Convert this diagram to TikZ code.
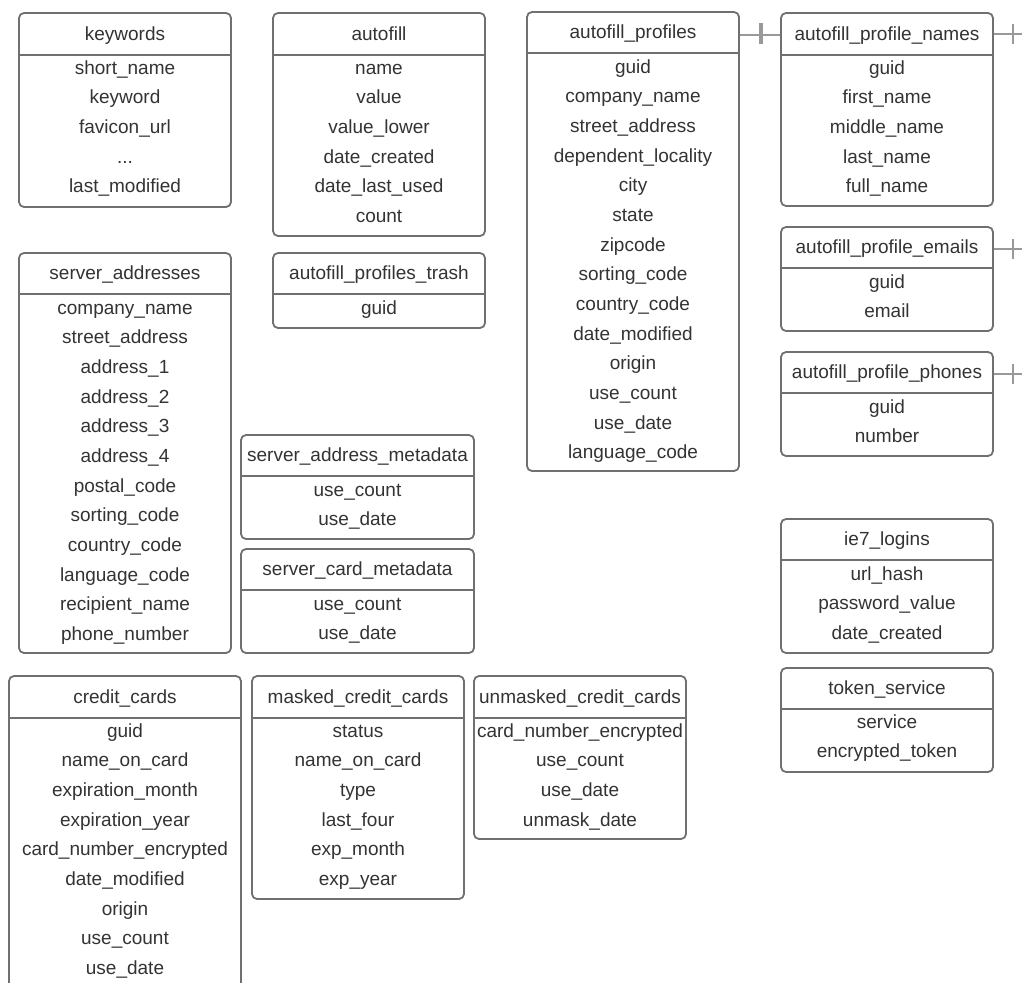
\documentclass[tikz,border=0pt]{standalone}
\usepackage{fontspec}
\setmainfont{Liberation Sans}
\usetikzlibrary{fit}
\definecolor{bordc}{RGB}{112,112,112}
\definecolor{txtc}{RGB}{51,51,51}
\definecolor{connc}{RGB}{153,153,153}
\tikzset{
  tblbox/.style={draw=bordc, line width=1.8pt, rounded corners=5pt, inner sep=0pt},
  divline/.style={draw=bordc, line width=1.8pt},
  txt/.style={text=txtc, font=\fontsize{19}{23}\selectfont, inner sep=0pt, anchor=base},
  conn/.style={draw=connc, line width=1.8pt},
  thickbar/.style={draw=connc, line width=4pt},
  thinbar/.style={draw=connc, line width=1.8pt},
}
% #1 id, #2 x1, #3 y1, #4 x2, #5 y2, #6 divider y, #7 title, #8 first row y, #9 rows
\newcommand\ertable[9]{%
  \node[tblbox, fit={(#2,#3) (#4,#5)}] (#1) {};
  \draw[divline] (#2,#6) -- (#4,#6);
  \node[txt] (#1-t) at ({(#2+#4)/2},{(#3+#6)/2+6.2}) {#7};
  \foreach \r [count=\i from 0] in {#9}
    \node[txt] (#1-\i) at ({(#2+#4)/2},{#8+6.3+\i*29.65}) {\r};
}
\begin{document}
\begin{tikzpicture}[x=1pt,y=-1pt]
\useasboundingbox (0,0) rectangle (1022,982);
\clip (0,0) rectangle (1022,982);
\fill[white] (0,0) rectangle (1022,982);

\ertable{kw}{19}{13}{231}{207}{55}{keywords}{68}{short\_name,keyword,favicon\_url,{.{}.{}.},last\_modified}
\ertable{af}{273}{13}{485}{236}{55}{autofill}{68}{name,value,value\_lower,date\_created,date\_last\_used,count}
\ertable{ap}{527}{12}{739}{471}{53}{autofill\_profiles}{67}{guid,company\_name,street\_address,dependent\_locality,city,state,zipcode,sorting\_code,country\_code,date\_modified,origin,use\_count,use\_date,language\_code}
\ertable{apn}{781}{13}{993}{206}{55}{autofill\_profile\_names}{68}{guid,first\_name,middle\_name,last\_name,full\_name}
\ertable{ape}{781}{227}{993}{331}{268}{autofill\_profile\_emails}{282}{guid,email}
\ertable{app}{781}{352}{993}{456}{393}{autofill\_profile\_phones}{407}{guid,number}
\ertable{ie}{781}{519}{993}{653}{560}{ie7\_logins}{574}{url\_hash,password\_value,date\_created}
\ertable{ts}{781}{668}{993}{772}{709}{token\_service}{722}{service,encrypted\_token}
\ertable{sa}{19}{253}{231}{653}{294}{server\_addresses}{308}{company\_name,street\_address,address\_1,address\_2,address\_3,address\_4,postal\_code,sorting\_code,country\_code,language\_code,recipient\_name,phone\_number}
\ertable{apt}{273}{253}{485}{328}{294}{autofill\_profiles\_trash}{308}{guid}
\ertable{sam}{241}{435}{474}{539}{476}{server\_address\_metadata}{490}{use\_count,use\_date}
\ertable{scm}{241}{549}{474}{653}{590}{server\_card\_metadata}{604}{use\_count,use\_date}
\ertable{cc}{9}{676}{241}{1000}{718}{credit\_cards}{731}{guid,name\_on\_card,expiration\_month,expiration\_year,card\_number\_encrypted,date\_modified,origin,use\_count,use\_date}
\ertable{mcc}{252}{676}{464}{899}{718}{masked\_credit\_cards}{731}{status,name\_on\_card,type,last\_four,exp\_month,exp\_year}
\ertable{ucc}{474}{676}{686}{839}{718}{unmasked\_credit\_cards}{731}{card\_number\_encrypted,use\_count,use\_date,unmask\_date}

% connectors
\draw[conn] (ap.east|-apn-t.center) -- (apn.west|-apn-t.center);
\draw[thickbar] (761,23.5) -- (761,44.5);
\coordinate (e1) at (1022,34);
\coordinate (e2) at (1022,249);
\coordinate (e3) at (1022,374);
\draw[conn] (apn.east|-e1) -- (e1);
\draw[conn] (ape.east|-e2) -- (e2);
\draw[conn] (app.east|-e3) -- (e3);
\draw[thinbar] (1013,24) -- (1013,44);
\draw[thinbar] (1013,239) -- (1013,259);
\draw[thinbar] (1013,364) -- (1013,384);
\end{tikzpicture}
\end{document}
